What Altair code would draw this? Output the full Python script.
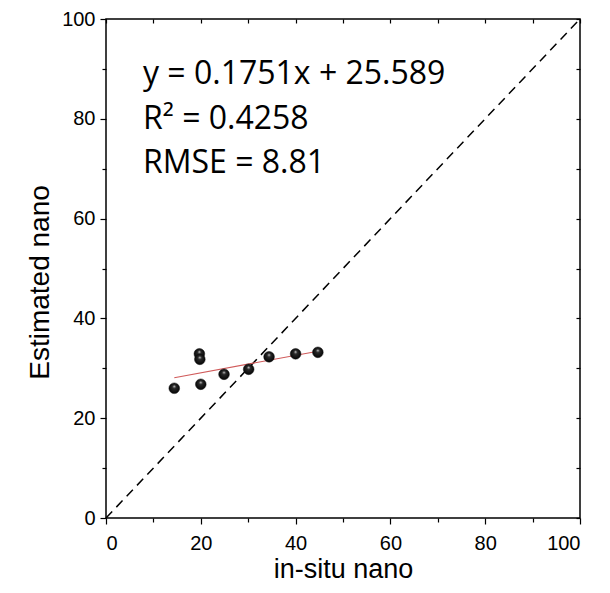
import altair as alt
import pandas as pd

# ---- data ----
in_situ = [14.4, 20.0, 19.7, 19.8, 24.9, 30.1, 34.4, 40.0, 44.7]
estimated = [26.0, 26.8, 32.9, 31.8, 28.8, 29.8, 32.3, 32.9, 33.2]
slope = 0.1751
intercept = 25.589
stats_lines = ["y = 0.1751x + 25.589", "R² = 0.4258", "RMSE = 8.81"]
stats_x = [7.8, 7.8, 7.8]
stats_y = [87.0, 78.0, 69.1]
one_to_one = [0, 100]
major_ticks = [0, 20, 40, 60, 80, 100]
minor_ticks = [10, 30, 50, 70, 90]
all_ticks = [0, 10, 20, 30, 40, 50, 60, 70, 80, 90, 100]

W, H = 474, 499

pts = pd.DataFrame({"x": in_situ, "y": estimated})
diag = pd.DataFrame({"x": one_to_one, "y": one_to_one})
xr = [min(in_situ), max(in_situ)]
reg = pd.DataFrame({"x": xr, "y": [slope * v + intercept for v in xr]})
ann = pd.DataFrame({"x": stats_x, "y": stats_y, "t": stats_lines})

xs = alt.Scale(domain=[0, 100], nice=False)
ys = alt.Scale(domain=[0, 100], nice=False)

lab = dict(labelFont="Liberation Sans", labelFontSize=20, labelColor="black",
           tickColor="black", tickWidth=1.2, domain=False, grid=False)

x_main = alt.Axis(orient="bottom", values=major_ticks, tickSize=6, labelPadding=9,
                  title="in-situ nano", titleFont="Liberation Sans", titleFontSize=27,
                  titleFontWeight="normal", titleColor="black", titleBaseline="alphabetic",
                  titleY=59, **lab)
y_main = alt.Axis(orient="left", values=major_ticks, tickSize=6, labelPadding=5,
                  title="Estimated nano", titleFont="Liberation Sans", titleFontSize=28,
                  titleFontWeight="normal", titleColor="black", titleBaseline="alphabetic",
                  titleAngle=-90, titleX=-58, titleY=263, titleAlign="center", **lab)
x_minor = alt.Axis(orient="bottom", values=minor_ticks, tickSize=4, labels=False, title=None,
                   tickColor="black", tickWidth=1.2, domain=False, grid=False)
y_minor = alt.Axis(orient="left", values=minor_ticks, tickSize=4, labels=False, title=None,
                   tickColor="black", tickWidth=1.2, domain=False, grid=False)
x_top = alt.Axis(orient="bottom", offset=-H, values=all_ticks, tickSize=4, labels=False,
                 title=None, tickColor="black", tickWidth=1.2, domain=False, grid=False)
y_right = alt.Axis(orient="left", offset=-W, values=all_ticks, tickSize=4, labels=False,
                   title=None, tickColor="black", tickWidth=1.2, domain=False, grid=False)

diag_layer = alt.Chart(diag).mark_line(color="black", strokeWidth=1.5, strokeDash=[9, 6]).encode(
    x=alt.X("x:Q", scale=xs, axis=x_top),
    y=alt.Y("y:Q", scale=ys, axis=y_right),
)

reg_layer = alt.Chart(reg).mark_line(color="#d05a5a", strokeWidth=1.1).encode(
    x=alt.X("x:Q", scale=xs, axis=x_minor),
    y=alt.Y("y:Q", scale=ys, axis=y_minor),
)

sphere = alt.RadialGradient(
    gradient="radial", x1=0.5, y1=0.3, r1=0.0, x2=0.5, y2=0.5, r2=0.55,
    stops=[alt.GradientStop(offset=0, color="#d0d0d0"),
           alt.GradientStop(offset=0.3, color="#2a2a2a"),
           alt.GradientStop(offset=1, color="#000000")],
)
pt_layer = alt.Chart(pts).mark_circle(size=115, opacity=1, fill=sphere, stroke="#111111",
                                      strokeWidth=0.5).encode(
    x=alt.X("x:Q", scale=xs, axis=x_main),
    y=alt.Y("y:Q", scale=ys, axis=y_main),
)

txt_layer = alt.Chart(ann).mark_text(align="left", baseline="alphabetic", font="Open Sans",
                                     fontSize=32, color="black").encode(
    x=alt.X("x:Q", scale=xs, axis=None),
    y=alt.Y("y:Q", scale=ys, axis=None),
    text="t:N",
)

chart = alt.layer(diag_layer, reg_layer, pt_layer, txt_layer).resolve_axis(
    x="independent", y="independent"
).properties(
    width=W, height=H,
    autosize=alt.AutoSizeParams(type="none"),
    padding={"left": 98, "top": 11, "right": 22, "bottom": 65},
    background="white",
).configure_view(stroke="black", strokeWidth=1.5)

chart.save("out.html", embed_options={"renderer": "svg", "actions": False})
